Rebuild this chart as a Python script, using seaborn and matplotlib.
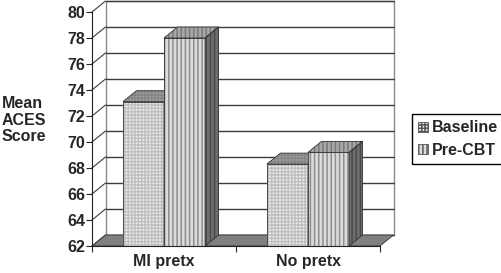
import numpy as np
import pandas as pd
import matplotlib
matplotlib.use("Agg")
import matplotlib.pyplot as plt
import matplotlib.patches as mpatches
import seaborn as sns

# values
groups = ["MI pretx", "No pretx"]
series = ["Baseline", "Pre-CBT"]
baseline = [73.1, 68.3]
pre_cbt = [78.0, 69.2]
y_ticks = list(range(62, 81, 2))

df = pd.DataFrame({
    "group": groups * 2,
    "time": [series[0]] * 2 + [series[1]] * 2,
    "score": baseline + pre_cbt,
})

sns.set_style("white")
plt.rcParams["font.family"] = ["Liberation Sans", "DejaVu Sans"]
plt.rcParams["font.weight"] = "bold"
plt.rcParams["hatch.linewidth"] = 1.1

# face styles per series: (facecolor, hatch colour)
hatches = {"Baseline": "+++++", "Pre-CBT": "||||"}
front = {"Baseline": ("#f0f0f0", "#c0c0c0"), "Pre-CBT": ("#dcdcdc", "#8e8e8e")}
top = {"Baseline": ("#a2a2a2", "#868686"), "Pre-CBT": ("#a8a8a8", "#787878")}
side = {"Baseline": ("#6e6e6e", "#555555"), "Pre-CBT": ("#6e6e6e", "#4a4a4a")}
edge = "#333333"
fs = 11.5

fig = plt.figure(figsize=(5.01, 2.73), dpi=100)
ax = fig.add_axes([92 / 501, 27 / 273, 288 / 501, 234 / 273])

sns.barplot(data=df, x="group", y="score", hue="time", order=groups,
            hue_order=series, palette={s: front[s][0] for s in series},
            width=0.57, saturation=1, linewidth=0, legend=False, ax=ax)

ax.set_xlim(-0.5, 1.5)
ax.set_ylim(62, 80)
ax.set_yticks(y_ticks)
ax.set_xticks([-0.5, 0.5, 1.5], minor=True)
ax.set_xlabel("")
ax.set_ylabel("")
ax.tick_params(axis="y", direction="out", length=4, width=0.8, pad=1,
               labelsize=fs, left=True)
ax.tick_params(axis="x", which="major", length=0, pad=6, labelsize=fs)
ax.tick_params(axis="x", which="minor", direction="out", length=4,
               width=0.8, bottom=True)
for lab in ax.get_xticklabels() + ax.get_yticklabels():
    lab.set_fontweight("bold")
sns.despine(ax=ax, top=True, right=True)
for s in ["left", "bottom"]:
    ax.spines[s].set_color("#222222")
    ax.spines[s].set_linewidth(0.8)
    ax.spines[s].set_zorder(5)
ax.patch.set_alpha(0)

# depth of the fake 3-D box, in pixels -> data units
inv = ax.transData.inverted()
p0 = inv.transform((0, 0))
p1 = inv.transform((13.5, 11))
dx, dy = p1 - p0
x0, x1 = ax.get_xlim()
ylo, yhi = ax.get_ylim()


def add_face(verts, fc, hc, hatch, z):
    # hatched fill, then a separate outline so hatch and edge colours differ
    ax.add_patch(mpatches.Polygon(verts, closed=True, facecolor=fc,
                                  edgecolor=hc, linewidth=0, hatch=hatch,
                                  clip_on=False, zorder=z))
    ax.add_patch(mpatches.Polygon(verts, closed=True, fill=False,
                                  edgecolor=edge, linewidth=0.6,
                                  clip_on=False, zorder=z + 0.01))


# back wall
ax.add_patch(mpatches.Polygon([(x0 + dx, ylo + dy), (x1 + dx, ylo + dy),
                               (x1 + dx, yhi + dy), (x0 + dx, yhi + dy)],
                              closed=True, facecolor="white",
                              edgecolor="#8a8a8a", linewidth=1.0,
                              clip_on=False, zorder=0.1))
for t in y_ticks:
    ax.plot([x0 + dx, x1 + dx], [t + dy, t + dy], color="#3c3c3c", lw=1.0,
            clip_on=False, zorder=0.2)
    ax.plot([x0, x0 + dx], [t, t + dy], color="#3c3c3c", lw=0.8,
            clip_on=False, zorder=0.2)

# floor
ax.add_patch(mpatches.Polygon([(x0, ylo), (x1, ylo), (x1 + dx, ylo + dy),
                               (x0 + dx, ylo + dy)], closed=True,
                              facecolor="#808080", edgecolor="#333333",
                              linewidth=0.6, clip_on=False, zorder=0.3))

# bars: hatch the fronts and add top and side faces
for i, name in enumerate(series):
    z = 2 + i
    for bar in ax.containers[i]:
        x = bar.get_x()
        w = bar.get_width()
        v = bar.get_height()
        bar.set_hatch(hatches[name])
        bar.set_edgecolor(front[name][1])
        bar.set_zorder(z)
        ax.add_patch(mpatches.Rectangle((x, ylo), w, v - ylo, fill=False,
                                        edgecolor=edge, linewidth=0.6,
                                        zorder=z + 0.01))
        add_face([(x, v), (x + w, v), (x + w + dx, v + dy), (x + dx, v + dy)],
                 top[name][0], top[name][1], hatches[name], z + 0.1)
        add_face([(x + w, ylo), (x + w, v), (x + w + dx, v + dy),
                  (x + w + dx, ylo + dy)],
                 side[name][0], side[name][1], hatches[name], z + 0.1)

fig.text(2 / 501, 0.56, "Mean\nACES\nScore", ha="left", va="center",
         fontsize=fs, fontweight="bold", linespacing=1.15)

handles = [mpatches.Patch(facecolor=front[s][0], edgecolor=front[s][1],
                          linewidth=0, hatch=hatches[s]) for s in series]
leg = fig.legend(handles, series, loc="upper left",
                 bbox_to_anchor=(412 / 501, (273 - 114) / 273), frameon=True,
                 fancybox=False, edgecolor="black", framealpha=1,
                 prop={"size": fs, "weight": "bold"}, handlelength=0.6,
                 handleheight=0.6, handletextpad=0.25, labelspacing=0.45,
                 borderpad=0.4, borderaxespad=0)
leg.get_frame().set_linewidth(1.0)
for h in leg.legend_handles:
    h.set_edgecolor("#555555")
    h.set_linewidth(0.6)

fig.savefig("out.png", dpi=100)
